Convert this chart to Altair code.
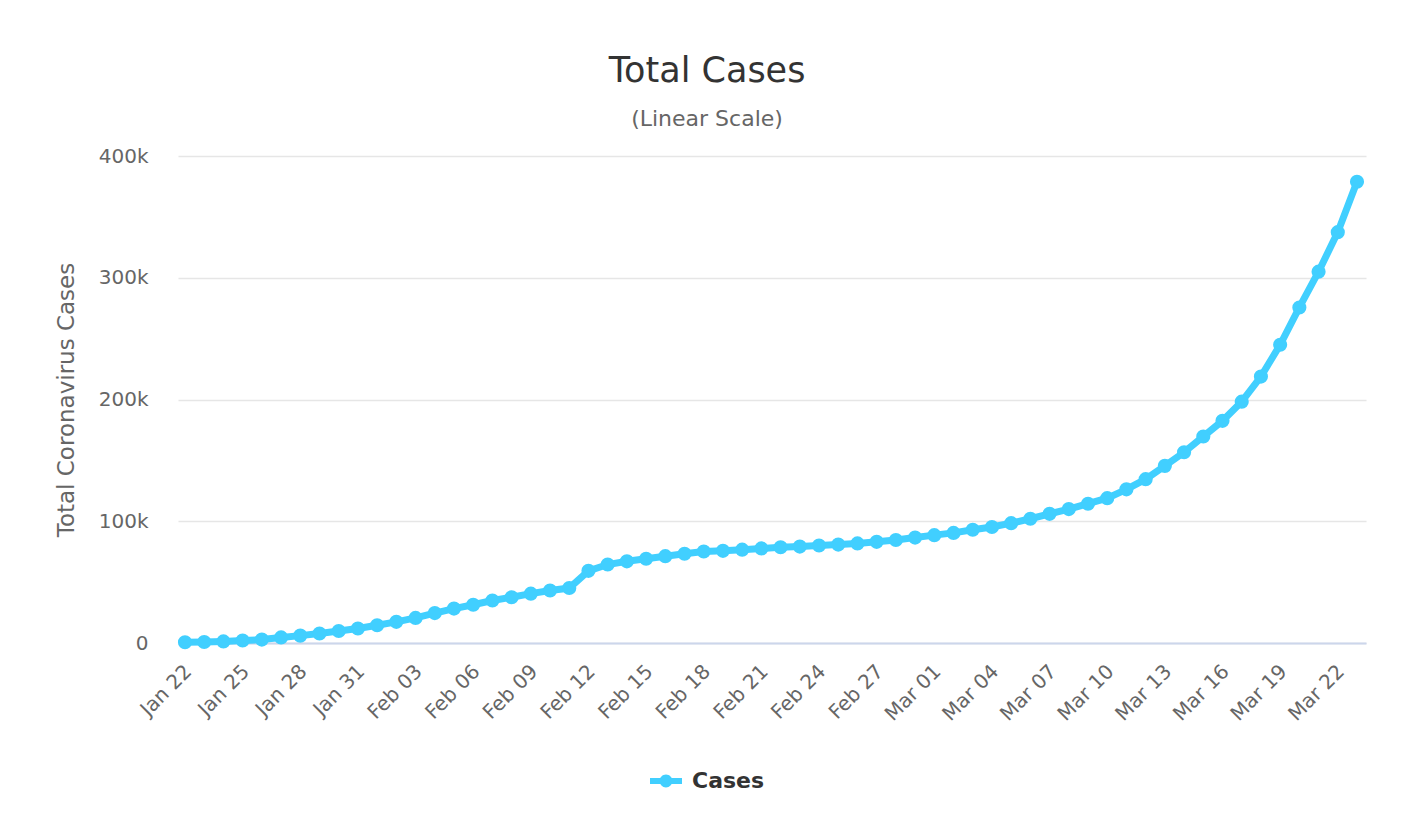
import altair as alt
import pandas as pd

dates = [
    "2020-01-22", "2020-01-23", "2020-01-24", "2020-01-25", "2020-01-26", "2020-01-27",
    "2020-01-28", "2020-01-29", "2020-01-30", "2020-01-31", "2020-02-01", "2020-02-02",
    "2020-02-03", "2020-02-04", "2020-02-05", "2020-02-06", "2020-02-07", "2020-02-08",
    "2020-02-09", "2020-02-10", "2020-02-11", "2020-02-12", "2020-02-13", "2020-02-14",
    "2020-02-15", "2020-02-16", "2020-02-17", "2020-02-18", "2020-02-19", "2020-02-20",
    "2020-02-21", "2020-02-22", "2020-02-23", "2020-02-24", "2020-02-25", "2020-02-26",
    "2020-02-27", "2020-02-28", "2020-02-29", "2020-03-01", "2020-03-02", "2020-03-03",
    "2020-03-04", "2020-03-05", "2020-03-06", "2020-03-07", "2020-03-08", "2020-03-09",
    "2020-03-10", "2020-03-11", "2020-03-12", "2020-03-13", "2020-03-14", "2020-03-15",
    "2020-03-16", "2020-03-17", "2020-03-18", "2020-03-19", "2020-03-20", "2020-03-21",
    "2020-03-22", "2020-03-23",
]
cases = [
    580, 845, 1317, 2015, 2800, 4581, 6058, 7813, 9823, 11950, 14553, 17391,
    20630, 24545, 28266, 31439, 34876, 37552, 40553, 43099, 45134, 59287, 64438, 67100,
    69197, 71329, 73332, 75184, 75700, 76677, 77673, 78651, 79205, 80087, 80828, 81820,
    83112, 84615, 86604, 88585, 90443, 93016, 95314, 98425, 102050, 106099, 109991, 114381,
    118948, 126214, 134576, 145483, 156653, 169593, 182490, 198238, 218822, 244933, 275597, 304979,
    337459, 378830,
]
series_name = "Cases"
y_ticks = [0, 100000, 200000, 300000, 400000]
label_dates = dates[::3]

df = pd.DataFrame({"date": dates, "cases": cases, "series": series_name})

FONT = "DejaVu Sans"
CYAN = "#41cfff"

def to_ms(s):
    return int(pd.Timestamp(s, tz="UTC").timestamp() * 1000)

x_domain = [to_ms("2020-01-21T15:15"), to_ms("2020-03-23T11:15")]
x_values = [to_ms(d) for d in label_dates]

x_enc = alt.X(
    "date:T",
    scale=alt.Scale(type="utc", domain=x_domain),
    axis=alt.Axis(
        values=x_values,
        format="%b %d",
        labelAngle=-45,
        labelFont=FONT,
        labelFontSize=20,
        labelColor="#666666",
        labelPadding=18,
        labelOffset=-4,
        labelOverlap=False,
        labelBound=False,
        ticks=False,
        grid=False,
        domainColor="#ccd6eb",
        domainWidth=2,
        title=None,
    ),
)
y_enc = alt.Y(
    "cases:Q",
    scale=alt.Scale(domain=[0, 400000], nice=False),
    axis=alt.Axis(
        values=y_ticks,
        labelExpr="datum.value == 0 ? '0' : (datum.value / 1000) + 'k'",
        labelFont=FONT,
        labelFontSize=20,
        labelColor="#666666",
        labelPadding=30,
        ticks=False,
        domain=False,
        gridColor="#e6e6e6",
        gridWidth=1.5,
        title="Total Coronavirus Cases",
        titleFont=FONT,
        titleFontSize=23,
        titleFontWeight="normal",
        titleColor="#666666",
        titleX=-112,
        titleY=243.5,
        titleAngle=-90,
        titleAlign="center",
        titleBaseline="middle",
    ),
)

base = alt.Chart(df)
line = base.mark_line(color=CYAN, strokeWidth=7).encode(x=x_enc, y=y_enc)
points = base.mark_point(filled=True, size=200, opacity=1).encode(
    x=x_enc,
    y=y_enc,
    color=alt.Color(
        "series:N",
        scale=alt.Scale(range=[CYAN]),
        legend=alt.Legend(
            orient="none",
            legendX=472,
            legendY=609,
            title=None,
            labelFont=FONT,
            labelFontSize=22,
            labelFontWeight="bold",
            labelColor="#333333",
            symbolType="M-1,-0.19 L1,-0.19 L1,0.19 L-1,0.19 Z M-0.4,0 A0.4,0.4 0 1 1 0.4,0 A0.4,0.4 0 1 1 -0.4,0 Z",
            symbolSize=1024,
            symbolStrokeWidth=0,
            symbolFillColor=CYAN,
            labelOffset=10,
        ),
    ),
)

chart = (
    alt.layer(line, points)
    .properties(
        width=1188,
        height=487,
        autosize=alt.AutoSizeParams(type="none"),
        padding={"left": 170, "top": 148, "right": 32, "bottom": 163},
        title=alt.TitleParams(
            text="Total Cases",
            subtitle="(Linear Scale)",
            font=FONT,
            fontSize=35,
            fontWeight="normal",
            color="#333333",
            subtitleFont=FONT,
            subtitleFontSize=22,
            subtitleColor="#666666",
            subtitlePadding=20,
            anchor="middle",
            frame="group",
            dx=-65,
            offset=16,
        ),
    )
    .configure_view(stroke=None)
)

chart.save("out.html", embed_options={"renderer": "svg", "actions": False})
